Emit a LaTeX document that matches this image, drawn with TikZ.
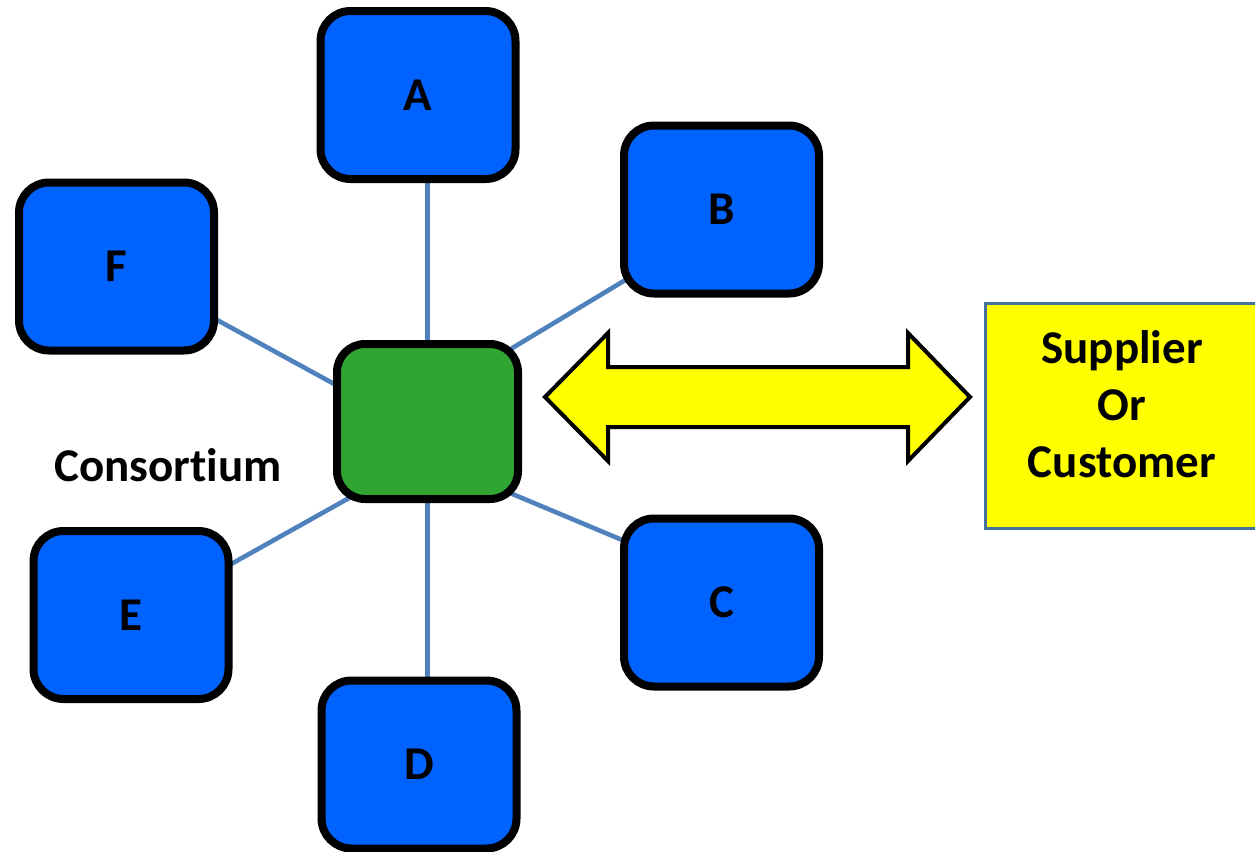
\documentclass[tikz,border=0pt]{standalone}
\usepackage{fontspec}
\setmainfont{Carlito}[Ligatures=NoCommon]
\usetikzlibrary{calc}
\definecolor{boxblue}{HTML}{0063FF}
\definecolor{hubgreen}{HTML}{31A532}
\definecolor{linkblue}{HTML}{4F81BD}
\definecolor{framblue}{HTML}{41719C}
\definecolor{yel}{HTML}{FFFF00}
\pgfdeclarelayer{bg}
\pgfsetlayers{bg,main}
\begin{document}
\begin{tikzpicture}[x=0.5pt,y=-0.5pt,
  member/.style={draw=black,fill=boxblue,line width=4pt,rounded corners=15pt,
    minimum width=97.5pt,minimum height=84pt,inner sep=0pt},
  hub/.style={draw=black,fill=hubgreen,line width=4pt,rounded corners=14pt,
    minimum width=90.5pt,minimum height=77.5pt,inner sep=0pt},
  link/.style={draw=linkblue,line width=2.3pt},
  lbl/.style={font=\fontsize{23.5}{28.5}\selectfont\bfseries,align=center}]
\useasboundingbox (0,0) rectangle (1255,852);
\node[member,lbl] (A) at (418,95) {A};
\node[member,lbl] (B) at (721.5,209.5) {B};
\node[member,lbl] (C) at (721.5,602.5) {C};
\node[member,lbl] (D) at (419,764.5) {D};
\node[member,lbl] (E) at (131,615) {E};
\node[member,lbl] (F) at (116.5,266.5) {F};
\node[hub] (G) at (427.5,421.5) {};
\node[lbl] (cons) at (168,465) {Consortium};
\node[draw=framblue,fill=yel,line width=1.5pt,minimum width=138.5pt,minimum height=112.5pt,inner sep=0pt] (S) at (1123.5,415.5) {};
\node[lbl] (stxt) at (1122,404) {Supplier\\Or\\Customer};
\begin{pgfonlayer}{bg}
\draw[link] (G.north) -- (G.north |- A.south);
\draw[link] (G.south) -- (G.south |- D.north);
\draw[link] ($(G.40)!-20pt!(B.216)$) -- ($(B.216)!-20pt!(G.40)$);
\draw[link] ($(G.158)!-20pt!(F.332)$) -- ($(F.332)!-20pt!(G.158)$);
\draw[link] ($(G.223)!-20pt!(E.27)$) -- ($(E.27)!-20pt!(G.223)$);
\draw[link] ($(G.321)!-20pt!(C.148)$) -- ($(C.148)!-20pt!(G.321)$);
\end{pgfonlayer}
\draw[fill=yel,line width=2pt,line join=miter]
  (545,397) -- (608,333) -- (608,367) -- (908,367) -- (908,333) -- (970,397)
  -- (908,461) -- (908,427) -- (608,427) -- (608,461) -- cycle;
\end{tikzpicture}
\end{document}
